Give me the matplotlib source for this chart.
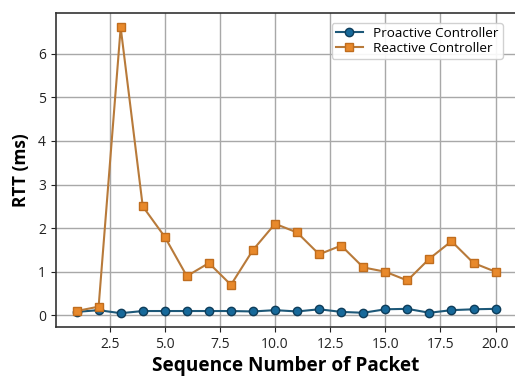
import matplotlib
matplotlib.use("Agg")
import matplotlib.pyplot as plt

plt.rcParams['font.family'] = ['Open Sans', 'DejaVu Sans']

# packet sequence numbers and round-trip times (ms)
seq = list(range(1, 21))
proactive = [0.08, 0.12, 0.05, 0.10, 0.10, 0.10, 0.10, 0.10, 0.09, 0.12,
             0.09, 0.14, 0.08, 0.06, 0.14, 0.15, 0.06, 0.12, 0.14, 0.15]
reactive = [0.10, 0.20, 6.60, 2.50, 1.80, 0.90, 1.20, 0.70, 1.50, 2.10,
            1.90, 1.40, 1.60, 1.10, 1.00, 0.80, 1.30, 1.70, 1.20, 1.00]

fig = plt.figure(figsize=(5.15, 3.76), dpi=100)
ax = fig.add_axes([0.108, 0.129, 0.895, 0.836])

ax.plot(seq, proactive, marker='o', color='#1d5878', lw=1.5, ms=6,
        mfc='#17699a', mec='#0f3d5a', label='Proactive Controller')
ax.plot(seq, reactive, marker='s', color='#b87a3a', lw=1.5, ms=6,
        mfc='#e8892b', mec='#c06d1e', label='Reactive Controller')

ax.set_xticks([2.5, 5.0, 7.5, 10.0, 12.5, 15.0, 17.5, 20.0])
ax.set_yticks([0, 1, 2, 3, 4, 5, 6])
ax.tick_params(labelsize=10, colors='#222222')
ax.grid(True, color='#a8a8a8', lw=1.0)
for s in ax.spines.values():
    s.set_color('#333333')
    s.set_linewidth(1.2)

ax.set_xlabel('Sequence Number of Packet', fontsize=13.7, fontweight='bold', labelpad=3)
ax.set_ylabel('RTT (ms)', fontsize=12.5, fontweight='bold', labelpad=6)
ax.legend(loc='upper right', bbox_to_anchor=(0.985, 0.99), fontsize=9.7,
          framealpha=0.9, borderpad=0.3, handlelength=2.0, labelspacing=0.15)

fig.savefig('out.png', dpi=100)
